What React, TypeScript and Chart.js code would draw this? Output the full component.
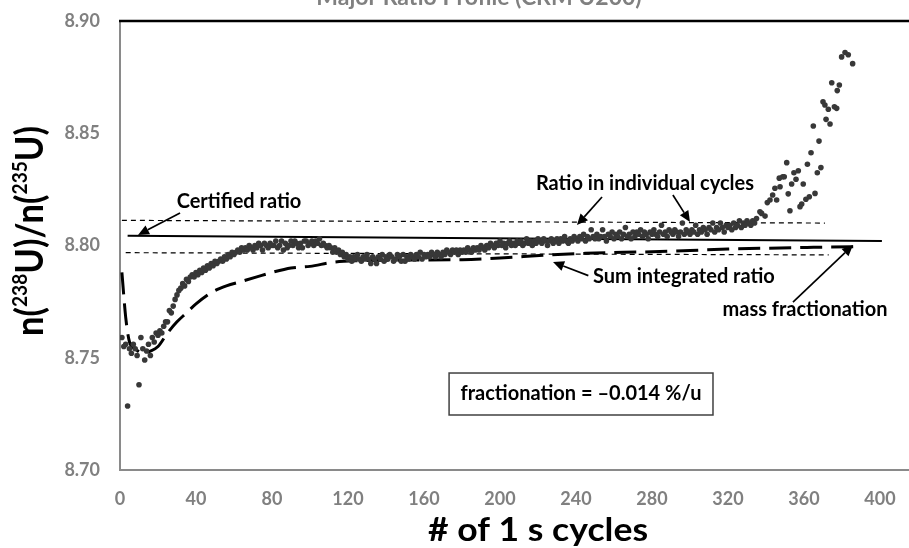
import React, { useEffect, useRef } from 'react';
import { Chart, registerables } from 'chart.js';

Chart.register(...registerables);

const chartTitle = 'Major Ratio Profile (CRM U200)';
const xAxisTitle = '# of 1 s cycles';
const yAxisTitleParts = [
  { text: 'n(', sup: false },
  { text: '238', sup: true },
  { text: 'U)/n(', sup: false },
  { text: '235', sup: true },
  { text: 'U)', sup: false },
];
const xTicks = [0, 40, 80, 120, 160, 200, 240, 280, 320, 360, 400];
const yTicks = [8.7, 8.75, 8.8, 8.85, 8.9];

// Ratio in individual cycles, cycles 1..335
const cycleRatios = [
  8.759, 8.755, 8.756, 8.7285, 8.754, 8.752, 8.756, 8.754, 8.751, 8.738,
  8.759, 8.754, 8.749, 8.753, 8.756, 8.751, 8.759, 8.757, 8.761, 8.760,
  8.762, 8.761, 8.764, 8.766, 8.766, 8.771, 8.770, 8.773, 8.776, 8.778,
  8.780, 8.781, 8.783, 8.782, 8.785, 8.784, 8.786, 8.787, 8.786, 8.788,
  8.787, 8.789, 8.788, 8.790, 8.789, 8.791, 8.790, 8.792, 8.791, 8.793,
  8.792, 8.793, 8.794, 8.793, 8.795, 8.794, 8.796, 8.795, 8.797, 8.796,
  8.797, 8.798, 8.797, 8.799, 8.798, 8.799, 8.798, 8.800, 8.799, 8.798,
  8.800, 8.799, 8.801, 8.800, 8.798, 8.801, 8.800, 8.799, 8.801, 8.800,
  8.800, 8.802, 8.799, 8.800, 8.802, 8.798, 8.801, 8.799, 8.800, 8.802,
  8.800, 8.802, 8.801, 8.799, 8.801, 8.799, 8.802, 8.802, 8.800, 8.801,
  8.802, 8.800, 8.802, 8.801, 8.803, 8.800, 8.801, 8.800, 8.799, 8.800,
  8.799, 8.797, 8.799, 8.797, 8.798, 8.796, 8.797, 8.795, 8.796, 8.794,
  8.795, 8.793, 8.795, 8.794, 8.796, 8.794, 8.793, 8.795, 8.794, 8.796,
  8.794, 8.792, 8.795, 8.794, 8.792, 8.795, 8.794, 8.796, 8.793, 8.795,
  8.794, 8.796, 8.795, 8.793, 8.794, 8.796, 8.795, 8.793, 8.796, 8.793,
  8.795, 8.794, 8.796, 8.795, 8.794, 8.796, 8.795, 8.797, 8.794, 8.796,
  8.795, 8.796, 8.795, 8.797, 8.796, 8.795, 8.797, 8.796, 8.795, 8.797,
  8.796, 8.798, 8.797, 8.796, 8.798, 8.797, 8.798, 8.796, 8.798, 8.797,
  8.798, 8.797, 8.799, 8.798, 8.797, 8.799, 8.798, 8.799, 8.798, 8.800,
  8.799, 8.798, 8.800, 8.799, 8.801, 8.800, 8.799, 8.801, 8.800, 8.802,
  8.800, 8.801, 8.799, 8.801, 8.802, 8.800, 8.801, 8.800, 8.802, 8.801,
  8.802, 8.800, 8.801, 8.803, 8.801, 8.802, 8.800, 8.802, 8.801, 8.803,
  8.802, 8.801, 8.803, 8.802, 8.800, 8.802, 8.803, 8.801, 8.802, 8.803,
  8.801, 8.803, 8.802, 8.804, 8.802, 8.801, 8.803, 8.802, 8.804, 8.803,
  8.802, 8.804, 8.803, 8.805, 8.802, 8.804, 8.803, 8.807, 8.804, 8.803,
  8.805, 8.803, 8.804, 8.807, 8.804, 8.802, 8.805, 8.804, 8.806, 8.803,
  8.805, 8.804, 8.806, 8.803, 8.805, 8.808, 8.804, 8.805, 8.803, 8.806,
  8.804, 8.806, 8.805, 8.807, 8.804, 8.806, 8.805, 8.803, 8.806, 8.805,
  8.807, 8.805, 8.804, 8.806, 8.809, 8.805, 8.806, 8.804, 8.807, 8.806,
  8.805, 8.807, 8.806, 8.804, 8.806, 8.810, 8.805, 8.807, 8.806, 8.805,
  8.807, 8.806, 8.809, 8.805, 8.807, 8.806, 8.808, 8.807, 8.805, 8.808,
  8.807, 8.810, 8.806, 8.808, 8.807, 8.810, 8.808, 8.806, 8.809, 8.808,
  8.809, 8.807, 8.810, 8.808, 8.809, 8.811, 8.808, 8.810, 8.809, 8.811,
  8.810, 8.809, 8.811, 8.810, 8.812,
];

// Ratio in individual cycles, scattered tail after cycle 335
const tailCycles = [
  336.8, 337.7, 339.5, 340.7, 342.1, 343.5, 344.7, 345.6, 347.0, 347.4,
  348.8, 349.6, 350.9, 351.7, 352.6, 353.5, 354.7, 355.8, 357.0, 357.9,
  358.8, 359.6, 361.0, 361.8, 362.8, 363.7, 364.9, 365.8, 367.0, 367.9,
  368.9, 370.0, 371.0, 371.6, 372.8, 373.7, 374.6, 376.0, 377.2, 377.5,
  378.6, 379.8, 381.6, 383.3, 385.6,
];
const tailRatios = [
  8.815, 8.8143, 8.8131, 8.8191, 8.8203, 8.8225, 8.8255, 8.8203, 8.830, 8.8262,
  8.8306, 8.8306, 8.8369, 8.823, 8.8155, 8.8274, 8.8324, 8.8295, 8.8333, 8.8173,
  8.8185, 8.8274, 8.8206, 8.8362, 8.8217, 8.8413, 8.8532, 8.8232, 8.8324, 8.8465,
  8.8347, 8.864, 8.8626, 8.8562, 8.8607, 8.8541, 8.8725, 8.8618, 8.8611, 8.869,
  8.8715, 8.884, 8.886, 8.885, 8.881,
];

// Sum integrated ratio (long-dash curve)
const sumCycles = [1, 3, 5, 8, 12, 16, 20, 25, 30, 35, 40, 48, 56, 64, 72, 80, 90, 100, 112, 125, 150, 180, 200, 225, 245, 265, 280, 300, 320, 340, 365, 388];
const sumRatios = [8.788, 8.768, 8.757, 8.754, 8.752, 8.753, 8.755, 8.761, 8.766, 8.770, 8.774, 8.779, 8.782, 8.784, 8.786, 8.788, 8.790, 8.7907, 8.7925, 8.7932, 8.7935, 8.7937, 8.7944, 8.7958, 8.7965, 8.797, 8.7972, 8.7978, 8.7984, 8.7988, 8.7992, 8.7995];

// Certified ratio (solid) and its uncertainty band (short dash)
const certifiedCycles = [4, 401];
const certifiedRatios = [8.8043, 8.802];
const upperCycles = [1, 371];
const upperRatios = [8.8112, 8.81];
const lowerCycles = [3, 373];
const lowerRatios = [8.7968, 8.7958];

// Annotations (data units)
const labelTexts = ['Certified ratio', 'Ratio in individual cycles', 'Sum integrated ratio', 'mass fractionation'];
const labelCycles = [62.6, 276.3, 296.8, 360.5];
const labelRatios = [8.8198, 8.8278, 8.786, 8.7713];
const arrowFromCycles = [31.6, 253.7, 291.0, 246.5, 354.2];
const arrowFromRatios = [8.8145, 8.8216, 8.8225, 8.7866, 8.7748];
const arrowToCycles = [9.5, 240.5, 300.0, 227.9, 385.8];
const arrowToRatios = [8.8047, 8.8091, 8.8105, 8.7926, 8.8002];
const boxText = 'fractionation = \u20130.014 %/u';
const boxCycles = [173.2, 312.1];
const boxRatios = [8.7432, 8.7245];

const FONT = 'Lato';

function toPoints(xs: number[], ys: number[]) {
  return xs.map((x, i) => ({ x, y: ys[i] }));
}

const decorPlugin = {
  id: 'decor',
  afterDraw(chart: any) {
    const { ctx, chartArea: ca, scales } = chart;
    const xs = scales.x;
    const ys = scales.y;
    ctx.save();

    // top border
    ctx.strokeStyle = '#000';
    ctx.lineWidth = 2.5;
    ctx.beginPath();
    ctx.moveTo(ca.left - 1, ca.top);
    ctx.lineTo(chart.width, ca.top);
    ctx.stroke();

    // clipped title
    ctx.font = `bold 23px ${FONT}`;
    ctx.fillStyle = '#808080';
    ctx.textAlign = 'center';
    ctx.textBaseline = 'alphabetic';
    ctx.fillText(chartTitle, 479, 5);

    // x tick labels
    ctx.font = `bold 18px ${FONT}`;
    ctx.fillStyle = '#808080';
    ctx.textBaseline = 'middle';
    xTicks.forEach((v) => {
      ctx.fillText(String(v), xs.getPixelForValue(v), 499);
    });

    // x axis title
    ctx.font = `bold 33px ${FONT}`;
    ctx.fillStyle = '#000';
    ctx.textBaseline = 'alphabetic';
    {
      const w = ctx.measureText(xAxisTitle).width;
      const sx = 220 / w;
      ctx.save();
      ctx.translate(538, 541);
      ctx.scale(sx, 1);
      ctx.textAlign = 'center';
      ctx.fillText(xAxisTitle, 0, 0);
      ctx.restore();
    }

    // y axis title (rotated with superscripts)
    {
      const mainFont = `bold 38px ${FONT}`;
      const supFont = `bold 21px ${FONT}`;
      let total = 0;
      const widths = yAxisTitleParts.map((p) => {
        ctx.font = p.sup ? supFont : mainFont;
        const w = ctx.measureText(p.text).width;
        total += w;
        return w;
      });
      const sx = 210 / total;
      ctx.save();
      ctx.translate(0, 231);
      ctx.rotate(-Math.PI / 2);
      ctx.scale(sx, 1);
      ctx.textAlign = 'left';
      ctx.fillStyle = '#000';
      let u = -total / 2;
      yAxisTitleParts.forEach((p, i) => {
        ctx.font = p.sup ? supFont : mainFont;
        ctx.fillText(p.text, u, p.sup ? 27 : 43);
        u += widths[i];
      });
      ctx.restore();
    }

    // annotation labels
    ctx.font = `bold 20px ${FONT}`;
    ctx.fillStyle = '#000';
    ctx.textAlign = 'center';
    ctx.textBaseline = 'middle';
    labelTexts.forEach((t, i) => {
      ctx.fillText(t, xs.getPixelForValue(labelCycles[i]), ys.getPixelForValue(labelRatios[i]));
    });

    // arrows
    ctx.strokeStyle = '#000';
    ctx.fillStyle = '#000';
    ctx.lineWidth = 1.7;
    arrowFromCycles.forEach((_, i) => {
      const x1 = xs.getPixelForValue(arrowFromCycles[i]);
      const y1 = ys.getPixelForValue(arrowFromRatios[i]);
      const x2 = xs.getPixelForValue(arrowToCycles[i]);
      const y2 = ys.getPixelForValue(arrowToRatios[i]);
      const ang = Math.atan2(y2 - y1, x2 - x1);
      const len = 11;
      const half = 5;
      const bx = x2 - len * Math.cos(ang);
      const by = y2 - len * Math.sin(ang);
      ctx.beginPath();
      ctx.moveTo(x1, y1);
      ctx.lineTo(bx, by);
      ctx.stroke();
      ctx.beginPath();
      ctx.moveTo(x2, y2);
      ctx.lineTo(bx + half * Math.sin(ang), by - half * Math.cos(ang));
      ctx.lineTo(bx - half * Math.sin(ang), by + half * Math.cos(ang));
      ctx.closePath();
      ctx.fill();
    });

    // fractionation box
    {
      const bx1 = xs.getPixelForValue(boxCycles[0]);
      const bx2 = xs.getPixelForValue(boxCycles[1]);
      const by1 = ys.getPixelForValue(boxRatios[0]);
      const by2 = ys.getPixelForValue(boxRatios[1]);
      ctx.fillStyle = '#fff';
      ctx.fillRect(bx1, by1, bx2 - bx1, by2 - by1);
      ctx.strokeStyle = '#404040';
      ctx.lineWidth = 1.5;
      ctx.strokeRect(bx1, by1, bx2 - bx1, by2 - by1);
      ctx.fillStyle = '#000';
      ctx.font = `bold 20px ${FONT}`;
      ctx.textAlign = 'center';
      ctx.textBaseline = 'middle';
      ctx.fillText(boxText, (bx1 + bx2) / 2, (by1 + by2) / 2);
    }

    ctx.restore();
  },
};

export default function App() {
  const ref = useRef<HTMLCanvasElement | null>(null);

  useEffect(() => {
    if (!ref.current) return;
    const cyclePoints = cycleRatios.map((v, i) => ({ x: i + 1, y: v }));
    const allPoints = cyclePoints.concat(toPoints(tailCycles, tailRatios));
    const chart = new Chart(ref.current, {
      type: 'scatter',
      data: {
        datasets: [
          {
            label: 'Ratio in individual cycles',
            data: allPoints,
            pointRadius: 2.8,
            pointHoverRadius: 0,
            pointBackgroundColor: '#383838',
            pointBorderWidth: 0,
            showLine: false,
          },
          {
            label: 'Certified ratio',
            data: toPoints(certifiedCycles, certifiedRatios),
            showLine: true,
            borderColor: '#000',
            borderWidth: 2,
            pointRadius: 0,
          },
          {
            label: 'Upper limit',
            data: toPoints(upperCycles, upperRatios),
            showLine: true,
            borderColor: '#000',
            borderWidth: 1.2,
            borderDash: [5, 4],
            pointRadius: 0,
          },
          {
            label: 'Lower limit',
            data: toPoints(lowerCycles, lowerRatios),
            showLine: true,
            borderColor: '#000',
            borderWidth: 1.2,
            borderDash: [5, 4],
            pointRadius: 0,
          },
          {
            label: 'Sum integrated ratio',
            data: toPoints(sumCycles, sumRatios),
            showLine: true,
            borderColor: '#000',
            borderWidth: 3,
            borderDash: [22, 9],
            cubicInterpolationMode: 'monotone',
            pointRadius: 0,
          },
        ],
      } as any,
      options: {
        animation: false,
        responsive: false,
        events: [],
        layout: { padding: { top: 21, right: 22, left: 0, bottom: 0 } },
        plugins: {
          legend: { display: false },
          tooltip: { enabled: false },
          title: { display: false },
        },
        scales: {
          x: {
            type: 'linear',
            min: 0,
            max: 420,
            grid: { drawOnChartArea: false, drawTicks: false },
            border: { display: true, color: '#8a8a8a', width: 2 },
            ticks: { display: false },
            afterBuildTicks: (s: any) => {
              s.ticks = xTicks.map((v) => ({ value: v }));
            },
            afterFit: (s: any) => {
              s.height = 78;
              s.paddingLeft = 0;
              s.paddingRight = 0;
            },
          },
          y: {
            type: 'linear',
            min: 8.7,
            max: 8.9,
            grid: { drawOnChartArea: false, drawTicks: false },
            border: { display: true, color: '#8a8a8a', width: 2 },
            ticks: {
              font: { family: FONT, weight: 'bold', size: 18 },
              color: '#808080',
              padding: 20,
              callback: (v: any) => Number(v).toFixed(2),
            },
            afterBuildTicks: (s: any) => {
              s.ticks = yTicks.map((v) => ({ value: v }));
            },
            afterFit: (s: any) => {
              s.width = 120;
              s.paddingTop = 0;
              s.paddingBottom = 0;
            },
          },
        },
      } as any,
      plugins: [decorPlugin],
    });
    return () => chart.destroy();
  }, []);

  return (
    <div style={{ position: 'fixed', left: 0, top: 0, width: 940, height: 548, background: '#fff' }}>
      <canvas ref={ref} width={940} height={548} style={{ display: 'block' }} />
    </div>
  );
}
